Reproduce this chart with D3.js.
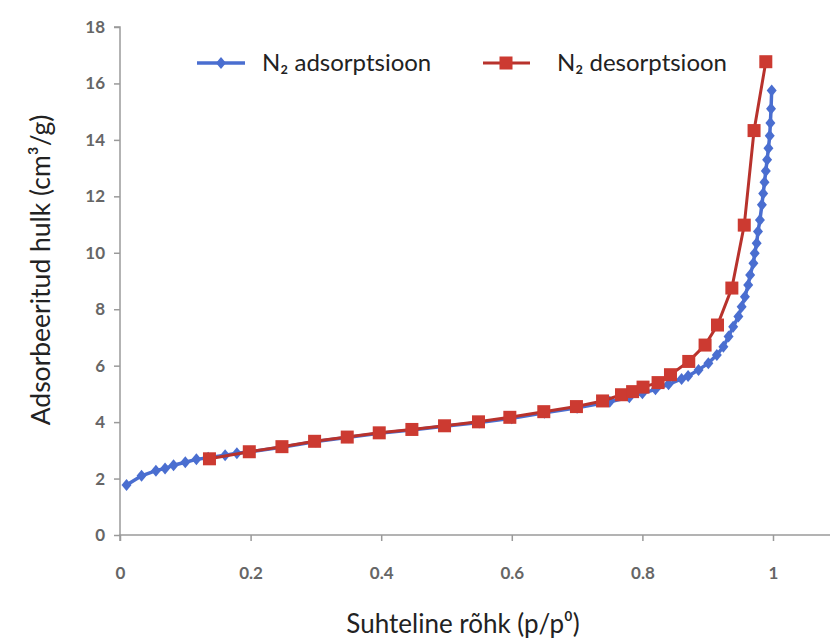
<!DOCTYPE html>
<html>
<head>
<meta charset="utf-8">
<script src="https://cdn.jsdelivr.net/npm/d3@7"></script>
<style>
  html, body { margin: 0; padding: 0; background: #fff; }
  svg { display: block; }
</style>
</head>
<body>
<svg id="chart" width="830" height="641"></svg>
<script>
// ---- data ----
const adsX = [0.010,0.033,0.055,0.069,0.082,0.100,0.117,0.135,0.161,0.179,0.200,0.250,0.300,0.350,0.400,0.450,0.500,0.550,0.600,0.650,0.700,0.750,0.780,0.800,0.820,0.840,0.860,0.870,0.886,0.901,0.914,0.924,0.932,0.939,0.947,0.952,0.957,0.962,0.965,0.970,0.972,0.975,0.977,0.980,0.983,0.985,0.987,0.989,0.991,0.993,0.995,0.996,0.997,0.998];
const adsY = [1.77,2.10,2.28,2.36,2.47,2.58,2.68,2.74,2.83,2.90,2.95,3.12,3.31,3.46,3.61,3.73,3.86,3.99,4.14,4.33,4.51,4.72,4.88,5.02,5.16,5.34,5.53,5.63,5.85,6.09,6.38,6.67,7.03,7.38,7.74,8.09,8.44,8.86,9.21,9.63,9.98,10.34,10.75,11.16,11.70,12.10,12.50,12.90,13.30,13.70,14.15,14.60,15.10,15.75];
const desX = [0.137,0.198,0.248,0.298,0.348,0.397,0.447,0.497,0.549,0.597,0.649,0.699,0.739,0.768,0.785,0.801,0.824,0.843,0.871,0.896,0.915,0.937,0.956,0.971,0.989];
const desY = [2.70,2.95,3.13,3.32,3.47,3.62,3.74,3.87,4.01,4.17,4.37,4.55,4.75,4.97,5.08,5.24,5.40,5.68,6.15,6.73,7.44,8.75,10.98,14.33,16.77];
const xTicks = [0, 0.2, 0.4, 0.6, 0.8, 1];
const xTickLabels = ["0", "0.2", "0.4", "0.6", "0.8", "1"];
const yTicks = [0, 2, 4, 6, 8, 10, 12, 14, 16, 18];
const seriesNames = ["N₂ adsorptsioon", "N₂ desorptsioon"];
const xTitle = "Suhteline rõhk (p/p⁰)";
const yTitle = "Adsorbeeritud hulk (cm³/g)";

// ---- layout ----
const svg = d3.select("#chart");
svg.append("rect").attr("width", 830).attr("height", 641).attr("fill", "#fff");

const x = d3.scaleLinear().domain([0, 1.0873]).range([120, 830]);
const y = d3.scaleLinear().domain([0, 18]).range([535, 27]);

const blue = "#4a6ed0";
const red = "#cc3a31";
const redLine = "#b8322c";
const axisColor = "#9a9a9a";
const font = "Lato, 'Open Sans', 'DejaVu Sans', sans-serif";

// axes
const xAxis = d3.axisBottom(x).tickValues(xTicks).tickSize(6).tickPadding(26)
  .tickFormat((d, i) => xTickLabels[i]);
const gx = svg.append("g").attr("transform", `translate(0,${y(0)})`).call(xAxis);
const yAxis = d3.axisLeft(y).tickValues(yTicks).tickSize(6).tickPadding(9);
const gy = svg.append("g").attr("transform", `translate(${x(0)},0)`).call(yAxis);

[gx, gy].forEach(g => {
  g.select(".domain").attr("stroke", axisColor).attr("stroke-width", 1.5);
  g.selectAll(".tick line").attr("stroke", axisColor).attr("stroke-width", 1.5);
  g.selectAll(".tick text").attr("fill", "#666").attr("font-family", font)
    .attr("font-size", 17).attr("font-weight", "bold");
});
gx.select(".domain").attr("d", `M${x(0)},6V0H830`);
gy.select(".domain").attr("d", `M-6,${y(18)}H0V${y(0)}`);

// axis titles
svg.append("text").attr("x", 463).attr("y", 633).attr("text-anchor", "middle")
  .attr("font-family", font).attr("font-size", 26).attr("fill", "#222").text(xTitle);
svg.append("text").attr("transform", `translate(50,270) rotate(-90)`).attr("text-anchor", "middle")
  .attr("font-family", font).attr("font-size", 26.5).attr("fill", "#222").text(yTitle);

// series
const ads = adsX.map((v, i) => [v, adsY[i]]);
const des = desX.map((v, i) => [v, desY[i]]);
const line = d3.line().x(d => x(d[0])).y(d => y(d[1]));

const diamond = "M0,-6L5,0L0,6L-5,0Z";
const sq = 13;

svg.append("path").datum(ads).attr("d", line).attr("fill", "none")
  .attr("stroke", blue).attr("stroke-width", 3.5);
svg.append("g").selectAll("path").data(ads).join("path")
  .attr("transform", d => `translate(${x(d[0])},${y(d[1])})`)
  .attr("d", diamond).attr("fill", blue);

svg.append("path").datum(des).attr("d", line).attr("fill", "none")
  .attr("stroke", redLine).attr("stroke-width", 3);
svg.append("g").selectAll("rect").data(des).join("rect")
  .attr("x", d => x(d[0]) - sq / 2).attr("y", d => y(d[1]) - sq / 2)
  .attr("width", sq).attr("height", sq).attr("fill", red);

// legend
const leg = svg.append("g");
leg.append("line").attr("x1", 197).attr("x2", 245).attr("y1", 63).attr("y2", 63)
  .attr("stroke", blue).attr("stroke-width", 3.5);
leg.append("path").attr("transform", "translate(221,63)").attr("d", diamond).attr("fill", blue);
leg.append("text").attr("x", 262).attr("y", 71).attr("font-family", font)
  .attr("font-size", 24).attr("fill", "#222").text(seriesNames[0]);

leg.append("line").attr("x1", 483).attr("x2", 530).attr("y1", 63).attr("y2", 63)
  .attr("stroke", redLine).attr("stroke-width", 3);
leg.append("rect").attr("x", 506 - sq / 2).attr("y", 63 - sq / 2).attr("width", sq).attr("height", sq).attr("fill", red);
leg.append("text").attr("x", 557).attr("y", 71).attr("font-family", font)
  .attr("font-size", 24).attr("fill", "#222").text(seriesNames[1]);
</script>
</body>
</html>
